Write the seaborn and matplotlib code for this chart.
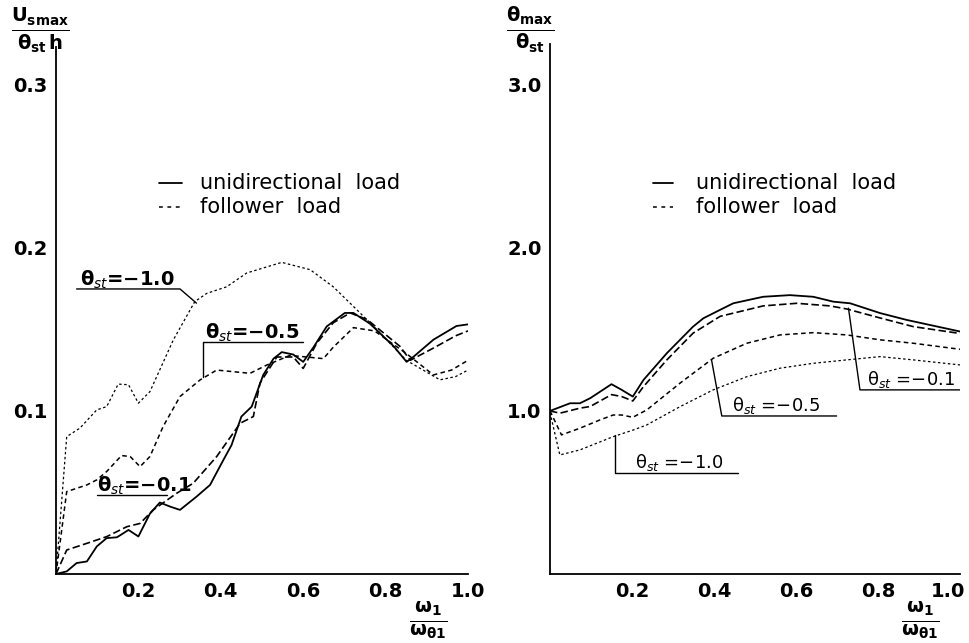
import matplotlib
matplotlib.use("Agg")
import matplotlib.pyplot as plt
import matplotlib.transforms as mtransforms
import seaborn as sns
import numpy as np

sns.set_theme(style="white")
plt.rcParams["font.family"] = ["DejaVu Sans"]
plt.rcParams["mathtext.fontset"] = "dejavusans"
plt.rcParams["text.color"] = "black"
plt.rcParams["xtick.color"] = "black"
plt.rcParams["ytick.color"] = "black"

# ---------------- left panel: U_smax / (theta_st h) ----------------
u_x_uni = [0, 0.026, 0.05, 0.075, 0.099, 0.123, 0.148, 0.176, 0.2, 0.228, 0.252, 0.277,
           0.301, 0.341, 0.374, 0.402, 0.426, 0.45, 0.475, 0.503, 0.528, 0.548, 0.576,
           0.6, 0.625, 0.657, 0.701, 0.722, 0.762, 0.82, 0.851, 0.867, 0.916, 0.972, 1.0]
u_y_uni = [0, 0.0016, 0.0067, 0.0077, 0.0169, 0.022, 0.0225, 0.027, 0.023, 0.037, 0.0438,
           0.0413, 0.0393, 0.0474, 0.0546, 0.0679, 0.079, 0.0965, 0.1026, 0.122, 0.132,
           0.136, 0.1345, 0.130, 0.139, 0.1517, 0.160, 0.160, 0.1534, 0.1395, 0.130,
           0.133, 0.1436, 0.152, 0.153]

u_x_f01 = [0, 0.026, 0.075, 0.123, 0.172, 0.204, 0.236, 0.293, 0.333, 0.39, 0.43, 0.447,
           0.479, 0.495, 0.536, 0.576, 0.6, 0.633, 0.673, 0.714, 0.755, 0.835, 0.86,
           0.92, 0.97, 1.0]
u_y_f01 = [0, 0.0147, 0.0188, 0.0229, 0.029, 0.031, 0.0393, 0.0495, 0.0556, 0.072, 0.0863,
           0.0924, 0.0965, 0.117, 0.133, 0.133, 0.126, 0.1415, 0.154, 0.160, 0.156,
           0.1395, 0.131, 0.139, 0.146, 0.149]

u_x_f05 = [0, 0.026, 0.075, 0.099, 0.123, 0.159, 0.18, 0.204, 0.228, 0.26, 0.301, 0.35,
           0.39, 0.43, 0.471, 0.511, 0.568, 0.608, 0.649, 0.673, 0.722, 0.773, 0.851,
           0.916, 0.96, 1.0]
u_y_f05 = [0, 0.0505, 0.0546, 0.0577, 0.0628, 0.0726, 0.072, 0.0658, 0.072, 0.0904,
           0.1088, 0.119, 0.125, 0.124, 0.123, 0.128, 0.134, 0.133, 0.132, 0.139, 0.151,
           0.149, 0.135, 0.122, 0.125, 0.131]

u_x_f10 = [0, 0.026, 0.058, 0.099, 0.123, 0.151, 0.176, 0.2, 0.228, 0.285, 0.337, 0.366,
           0.414, 0.463, 0.548, 0.617, 0.673, 0.73, 0.778, 0.85, 0.932, 0.97, 1.0]
u_y_f10 = [0, 0.0842, 0.0894, 0.1006, 0.1026, 0.1164, 0.116, 0.1047, 0.1118, 0.1436,
           0.167, 0.172, 0.176, 0.1845, 0.191, 0.1865, 0.176, 0.162, 0.150, 0.131,
           0.119, 0.121, 0.125]

# ---------------- right panel: theta_max / theta_st ----------------
t_x_uni = [0, 0.049, 0.073, 0.098, 0.15, 0.175, 0.202, 0.228, 0.285, 0.349, 0.374,
           0.415, 0.447, 0.52, 0.585, 0.642, 0.691, 0.732, 0.805, 0.87, 1.0]
t_y_uni = [1.0, 1.047, 1.047, 1.078, 1.164, 1.129, 1.088, 1.19, 1.354, 1.517, 1.568,
           1.62, 1.66, 1.70, 1.71, 1.70, 1.67, 1.66, 1.60, 1.558, 1.487]

t_x_f01 = [0, 0.024, 0.073, 0.098, 0.15, 0.175, 0.202, 0.228, 0.285, 0.349, 0.415,
           0.52, 0.602, 0.683, 0.724, 0.805, 0.886, 1.0]
t_y_f01 = [1.0, 0.986, 1.017, 1.027, 1.10, 1.088, 1.061, 1.149, 1.313, 1.477, 1.58,
           1.644, 1.66, 1.644, 1.625, 1.57, 1.517, 1.475]

t_x_f05 = [0, 0.028, 0.073, 0.122, 0.154, 0.175, 0.202, 0.236, 0.317, 0.398, 0.48,
           0.561, 0.642, 0.724, 0.805, 0.886, 1.0]
t_y_f05 = [1.0, 0.853, 0.894, 0.945, 0.975, 0.975, 0.961, 1.006, 1.17, 1.323, 1.415,
           1.466, 1.48, 1.466, 1.436, 1.415, 1.378]

t_x_f10 = [0, 0.024, 0.073, 0.154, 0.203, 0.236, 0.317, 0.398, 0.48, 0.561, 0.642,
           0.724, 0.805, 0.886, 1.0]
t_y_f10 = [0.99, 0.73, 0.761, 0.842, 0.883, 0.914, 1.026, 1.129, 1.21, 1.262, 1.292,
           1.313, 1.333, 1.313, 1.282]

x_ticks = [0.2, 0.4, 0.6, 0.8, 1.0]
x_tick_labels = ["0.2", "0.4", "0.6", "0.8", "1.0"]
u_ticks = [0.1, 0.2, 0.3]
u_tick_labels = ["0.1", "0.2", "0.3"]
t_ticks = [1.0, 2.0, 3.0]
t_tick_labels = ["1.0", "2.0", "3.0"]

legend_texts = ["unidirectional  load", "follower  load"]

# line appearance per series
style_uni = dict(color="black", linewidth=1.3, linestyle="-")
style_f01 = dict(color="black", linewidth=1.2, linestyle=(0, (4.5, 2.0)))
style_f05 = dict(color="black", linewidth=1.1, linestyle=(0, (3.0, 2.2)))
style_f10 = dict(color="black", linewidth=0.9, linestyle=(0, (2.0, 2.0)))

fig = plt.figure(figsize=(9.69, 6.43), dpi=100)
fig.patch.set_facecolor("white")
axL = fig.add_axes([56 / 969, 1 - 574 / 643, 412 / 969, (574 - 47) / 643])
axR = fig.add_axes([550 / 969, 1 - 574 / 643, 410 / 969, (574 - 44) / 643])


def draw(ax, xs, ys, st):
    sns.lineplot(x=xs, y=ys, ax=ax, sort=False, estimator=None, **st)


for xs, ys, st in [(u_x_uni, u_y_uni, style_uni), (u_x_f01, u_y_f01, style_f01),
                   (u_x_f05, u_y_f05, style_f05), (u_x_f10, u_y_f10, style_f10)]:
    draw(axL, xs, ys, st)
for xs, ys, st in [(t_x_uni, t_y_uni, style_uni), (t_x_f01, t_y_f01, style_f01),
                   (t_x_f05, t_y_f05, style_f05), (t_x_f10, t_y_f10, style_f10)]:
    draw(axR, xs, ys, st)

axL.set_xlim(0, 1.0)
axL.set_ylim(0, 0.323)
axR.set_xlim(0, 1.0)
axR.set_ylim(0, 3.25)

for ax, yt, ytl in [(axL, u_ticks, u_tick_labels), (axR, t_ticks, t_tick_labels)]:
    ax.set_facecolor("white")
    for s in ["top", "right"]:
        ax.spines[s].set_visible(False)
    for s in ["left", "bottom"]:
        ax.spines[s].set_color("black")
        ax.spines[s].set_linewidth(1.3)
    ax.set_xticks(x_ticks)
    ax.set_xticklabels(x_tick_labels, fontsize=14, fontweight="bold")
    ax.set_yticks(yt)
    ax.set_yticklabels(ytl, fontsize=14, fontweight="bold")
    ax.tick_params(direction="in", length=4, width=1.0, color="black", pad=6,
                   labelcolor="black")
    ax.set_xlabel("")
    ax.set_ylabel("")

# keep the right-hand "1.0" inside the figure
last = axR.get_xticklabels()[-1]
last.set_transform(last.get_transform() +
                   mtransforms.ScaledTranslation(-12 / 100, 0, fig.dpi_scale_trans))

# axis quantity labels (fractions)
fig.text(40 / 969, 1 - 30 / 643, r"$\mathbf{\frac{U_{smax}}{\theta_{st}\,h}}$",
         fontsize=20, ha="center", va="center")
fig.text(530 / 969, 1 - 30 / 643, r"$\mathbf{\frac{\theta_{max}}{\theta_{st}}}$",
         fontsize=20, ha="center", va="center")
fig.text(428 / 969, 1 - 620 / 643, r"$\mathbf{\frac{\omega_{1}}{\omega_{\theta 1}}}$",
         fontsize=20, ha="center", va="center")
fig.text(920 / 969, 1 - 620 / 643, r"$\mathbf{\frac{\omega_{1}}{\omega_{\theta 1}}}$",
         fontsize=20, ha="center", va="center")

# legends
for ax, lx0, lx1, tx, y0, y1 in [(axL, 0.25, 0.305, 0.35, 0.742, 0.696),
                                 (axR, 0.25, 0.30, 0.355, 0.738, 0.692)]:
    ax.plot([lx0, lx1], [y0, y0], transform=ax.transAxes, **style_uni)
    ax.plot([lx0, lx1], [y1, y1], transform=ax.transAxes, color="black",
            linewidth=1.1, linestyle=(0, (2.5, 3.0)))
    ax.text(tx, y0, legend_texts[0], transform=ax.transAxes, fontsize=15,
            va="center", ha="left", color="black")
    ax.text(tx, y1, legend_texts[1], transform=ax.transAxes, fontsize=15,
            va="center", ha="left", color="black")

# curve labels with leader lines
lead = dict(color="black", linewidth=1.0)
axL.plot([0.05, 0.301, 0.341], [0.1747, 0.1747, 0.166], **lead)
axL.text(0.058, 0.1765, r"θ$_{st}$=−1.0", fontsize=14, fontweight="bold")
axL.plot([0.356, 0.356, 0.60], [0.121, 0.1425, 0.1425], **lead)
axL.text(0.362, 0.1445, r"θ$_{st}$=−0.5", fontsize=14, fontweight="bold")
axL.plot([0.099, 0.27], [0.0485, 0.0485], **lead)
axL.text(0.10, 0.0505, r"θ$_{st}$=−0.1", fontsize=14, fontweight="bold")

axR.plot([0.728, 0.756, 1.0], [1.63, 1.129, 1.129], **lead)
axR.text(0.772, 1.16, r"θ$_{st}$ =−0.1", fontsize=13)
axR.plot([0.394, 0.419, 0.699], [1.313, 0.969, 0.969], **lead)
axR.text(0.443, 1.0, r"θ$_{st}$ =−0.5", fontsize=13)
axR.plot([0.159, 0.159, 0.459], [0.853, 0.618, 0.618], **lead)
axR.text(0.207, 0.65, r"θ$_{st}$ =−1.0", fontsize=13)

fig.savefig("out.png", dpi=100, facecolor="white")
